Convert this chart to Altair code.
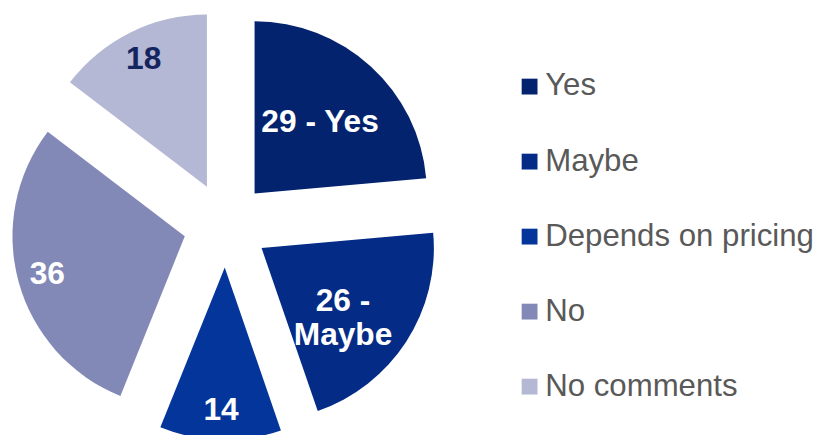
import math
import altair as alt
import pandas as pd

categories = ["Yes", "Maybe", "Depends on pricing", "No", "No comments"]
values = [29, 26, 14, 36, 18]
labels = ["29 - Yes", "26 -\nMaybe", "14", "36", "18"]
colors = ["#03236F", "#042C87", "#04359A", "#8389B7", "#B5B8D4"]

total = sum(values)
df = pd.DataFrame({
    "category": categories,
    "value": values,
    "label": labels,
    "order": list(range(len(categories))),
})

CX, CY = 220, 217      # pie centre in chart coordinates
EXPLODE = 43           # explosion distance in px
R = 174                # outer radius

base = (
    alt.Chart(df)
    .transform_window(cum="sum(value)", sort=[alt.SortField("order")], frame=[None, 0])
    .transform_calculate(
        start="datum.cum - datum.value",
        end="datum.cum",
        mid="datum.cum - datum.value / 2",
    )
    .transform_calculate(ang=f"datum.mid / {total} * 2 * PI")
    .transform_calculate(
        dx="sin(datum.ang)",
        dy="-cos(datum.ang)",
        labelR="indexof(datum.label, '-') >= 0 ? 98 : 144",
    )
)

xs = alt.Scale(domain=[-1, 1], range=[CX - EXPLODE, CX + EXPLODE])
ys = alt.Scale(domain=[-1, 1], range=[CY - EXPLODE, CY + EXPLODE])
ts = alt.Scale(domain=[0, total], range=[0, 2 * math.pi])

arcs = base.mark_arc(outerRadius=R, stroke=None).encode(
    x=alt.X("dx:Q", scale=xs, axis=None),
    y=alt.Y("dy:Q", scale=ys, axis=None),
    theta=alt.Theta("start:Q", scale=ts),
    theta2="end:Q",
    color=alt.Color(
        "category:N",
        scale=alt.Scale(domain=categories, range=colors),
        sort=categories,
        legend=alt.Legend(
            title=None,
            orient="none",
            legendX=511,
            legendY=61.5,
            padding=0,
            symbolType="square",
            symbolSize=256,
            symbolStrokeWidth=0,
            labelFontSize=31.5,
            labelFont="Liberation Sans",
            labelColor="#595959",
            labelOffset=0,
            rowPadding=42.75,
            labelLimit=400,
        ),
    ),
    order=alt.Order("order:Q"),
)

texts = base.mark_text(
    font="Liberation Sans",
    fontWeight="bold",
    fontSize=32,
    lineBreak="\n",
    lineHeight=35,
    align="center",
    baseline="middle",
).encode(
    x=alt.X("dx:Q", scale=xs, axis=None),
    y=alt.Y("dy:Q", scale=ys, axis=None),
    theta=alt.Theta("mid:Q", scale=ts),
    radius=alt.Radius("labelR:Q", scale=None),
    text="label:N",
    color=alt.condition(
        alt.datum.category == "No comments", alt.value("#14245E"), alt.value("#FFFFFF")
    ),
)

chart = (
    alt.layer(arcs, texts)
    .properties(width=815, height=427, padding=0, autosize=alt.AutoSizeParams(type="none"))
    .configure_view(stroke=None)
)

chart.save("out.html", embed_options={"renderer": "svg", "actions": False})
